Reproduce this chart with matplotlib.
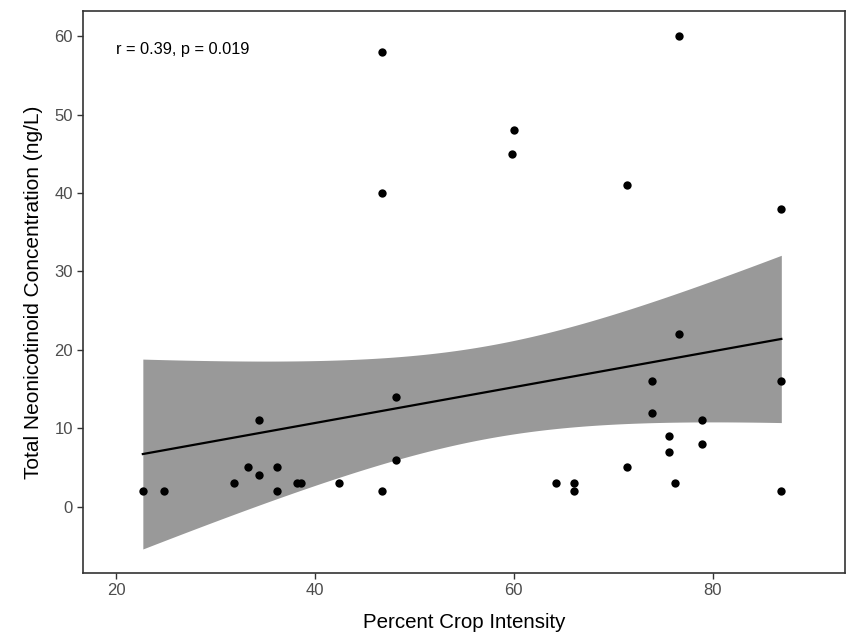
import numpy as np
import matplotlib
matplotlib.use('Agg')
import matplotlib.pyplot as plt
import matplotlib as mpl

mpl.rcParams['font.family'] = ['Liberation Sans', 'DejaVu Sans']

# percent crop intensity vs total neonicotinoid concentration
crop_intensity = [46.7, 46.7, 76.6, 60.0, 59.8, 71.4, 86.9,
                  22.7, 24.8, 31.9, 33.3, 34.4, 34.4, 36.2, 36.2, 38.2, 38.6,
                  42.4, 46.7, 48.2, 48.2,
                  76.6, 73.9, 86.9, 73.9, 78.9, 75.6, 78.9, 75.6, 71.4,
                  64.2, 66.1, 66.1, 76.2, 86.9]
neonic_conc = [58, 40, 60, 48, 45, 41, 38,
               2, 2, 3, 5, 4, 11, 5, 2, 3, 3,
               3, 2, 14, 6,
               22, 16, 16, 12, 11, 9, 8, 7, 5,
               3, 3, 2, 3, 2]

x = np.array(crop_intensity)
y = np.array(neonic_conc)

# lm fit + 95% confidence band (like geom_smooth(method='lm'))
n = len(x)
slope, intercept = np.polyfit(x, y, 1)
xs = np.linspace(x.min(), x.max(), 200)
fit = intercept + slope * xs
resid = y - (intercept + slope * x)
s = np.sqrt(np.sum(resid**2) / (n - 2))
se = s * np.sqrt(1.0/n + (xs - x.mean())**2 / np.sum((x - x.mean())**2))
tcrit = 2.0345  # t(0.975, df=33)
lo = fit - tcrit * se
hi = fit + tcrit * se

fig = plt.figure(figsize=(8.47, 6.34), dpi=100)
ax = fig.add_axes([0.0976, 0.0962, 0.9, 0.8864])

ax.fill_between(xs, lo, hi, color='#999999', linewidth=0, zorder=1)
ax.plot(xs, fit, color='black', linewidth=1.6, zorder=2)
ax.scatter(x, y, s=36, color='black', zorder=3, linewidths=0)

ax.text(20, 58.3, 'r = 0.39, p = 0.019', fontsize=11.8, color='black', va='center', ha='left')

ax.set_xlim(16.65, 93.3)
ax.set_ylim(-8.46, 63.2)
ax.set_xticks([20, 40, 60, 80])
ax.set_yticks([0, 10, 20, 30, 40, 50, 60])

for sp in ax.spines.values():
    sp.set_color('#333333')
    sp.set_linewidth(1.2)
ax.tick_params(colors='#333333', labelcolor='#4d4d4d', labelsize=12, length=4, width=1, pad=3)

ax.set_xlabel('Percent Crop Intensity', fontsize=14.8, labelpad=11)
ax.set_ylabel('Total Neonicotinoid Concentration (ng/L)', fontsize=15, labelpad=8)

plt.savefig('out.png', dpi=100)
